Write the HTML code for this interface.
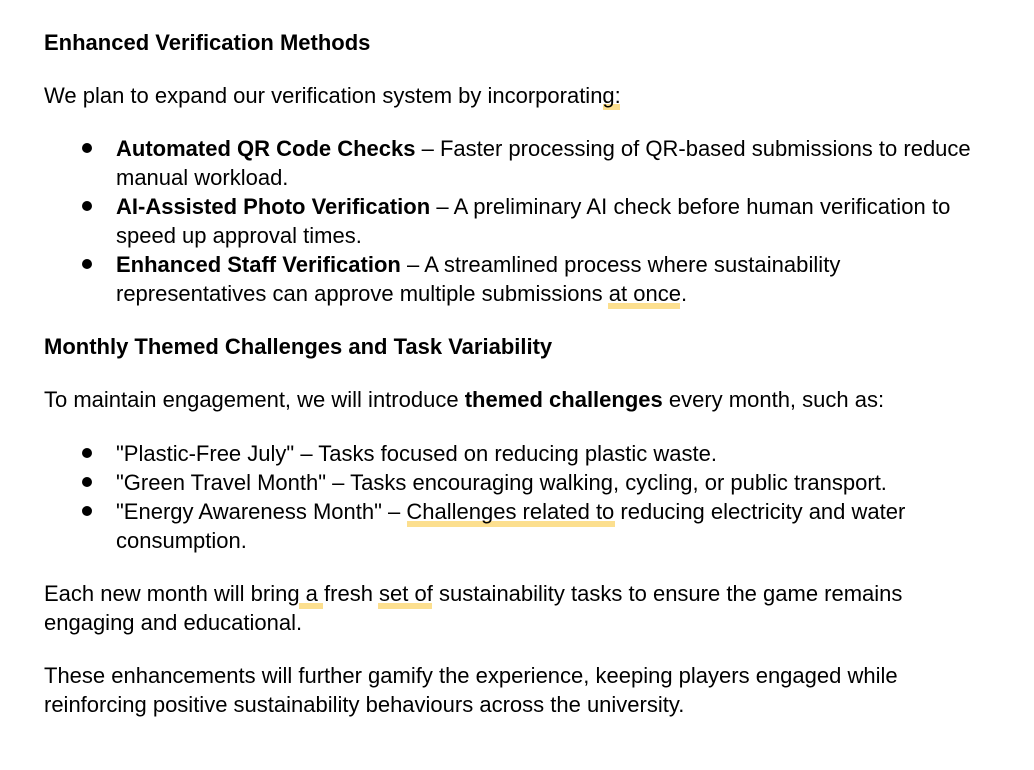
<!DOCTYPE html>
<html>
<head>
<meta charset="utf-8">
<style>
html,body{margin:0;padding:0;background:#fff}
#page{position:relative;width:1034px;height:770px;overflow:hidden;background:#fff;font-family:"Liberation Sans",sans-serif;font-size:22px;color:#000}
.l{position:absolute;white-space:pre;line-height:29px;height:29px}
.h{position:absolute;height:6px;background:#fcdf8f}
.b{position:absolute;left:82px;width:10px;height:10px;border-radius:50%;background:#000}
b{font-weight:700}
</style>
</head>
<body>
<div id="page">
<div class="h" style="left:603px;top:104px;width:17px"></div>
<div class="h" style="left:608px;top:303px;width:72px"></div>
<div class="h" style="left:407px;top:521px;width:208px"></div>
<div class="h" style="left:299px;top:603px;width:24px"></div>
<div class="h" style="left:378px;top:603px;width:54px"></div>

<div class="l" style="left:44px;top:28px"><b>Enhanced Verification Methods</b></div>
<div class="l" style="left:44px;top:81px">We plan to expand our verification system by incorporating:</div>

<div class="b" style="top:143px"></div>
<div class="l" style="left:116px;top:134px"><b>Automated QR Code Checks</b> – Faster processing of QR-based submissions to reduce</div>
<div class="l" style="left:116px;top:163px">manual workload.</div>
<div class="b" style="top:201px"></div>
<div class="l" style="left:116px;top:192px"><b>AI-Assisted Photo Verification</b><span style="letter-spacing:.055px"> – A preliminary AI check before human verification to</span></div>
<div class="l" style="left:116px;top:221px">speed up approval times.</div>
<div class="b" style="top:259px"></div>
<div class="l" style="left:116px;top:250px"><b>Enhanced Staff Verification</b><span style="letter-spacing:.04px"> – A streamlined process where sustainability</span></div>
<div class="l" style="left:116px;top:279px">representatives can approve multiple submissions at once.</div>

<div class="l" style="left:44px;top:332px"><b>Monthly Themed Challenges and Task Variability</b></div>
<div class="l" style="left:44px;top:385px">To maintain engagement, we will introduce <b>themed challenges</b> every month, such as:</div>

<div class="b" style="top:448px"></div>
<div class="l" style="left:116px;top:439px">"Plastic-Free July" – Tasks focused on reducing plastic waste.</div>
<div class="b" style="top:477px"></div>
<div class="l" style="left:116px;top:468px">"Green Travel Month" – Tasks encouraging walking, cycling, or public transport.</div>
<div class="b" style="top:506px"></div>
<div class="l" style="left:116px;top:497px">"Energy Awareness Month" – Challenges related to reducing electricity and water</div>
<div class="l" style="left:116px;top:526px">consumption.</div>

<div class="l" style="left:44px;top:579px">Each new month will bring a fresh set of sustainability tasks to ensure the game remains</div>
<div class="l" style="left:44px;top:608px">engaging and educational.</div>
<div class="l" style="left:44px;top:661px">These enhancements will further gamify the experience, keeping players engaged while</div>
<div class="l" style="left:44px;top:690px">reinforcing positive sustainability behaviours across the university.</div>
</div>
</body>
</html>
